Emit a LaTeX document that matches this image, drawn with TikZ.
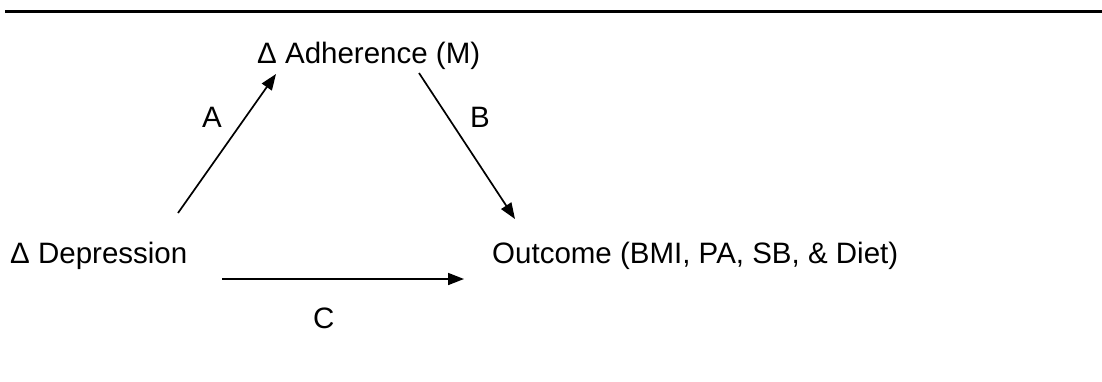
\documentclass[tikz,border=0pt]{standalone}
\usepackage{fontspec}
\setmainfont{Liberation Sans}
\usetikzlibrary{arrows.meta}
\begin{document}
\begin{tikzpicture}[x=1pt,y=-1pt,
  lbl/.style={anchor=base west,inner sep=0pt,font=\fontsize{29.5}{34}\selectfont},
  conn/.style={line width=1.7pt,-{Triangle[length=16pt,width=12pt]}}]
\useasboundingbox (0,0) rectangle (1102,381);
% rule across the top
\draw[line width=3pt] (5,11.5) -- (1102,11.5);
% variables
\node[lbl] (med) at (257,63) {Δ Adherence (M)};
\node[lbl] (dep) at (10,263) {Δ Depression};
\node[lbl] (out) at (492,263) {Outcome (BMI, PA, SB, \& Diet)};
% path labels
\node[lbl] (la) at (202,127) {A};
\node[lbl] (lb) at (470,127) {B};
\node[lbl] (lc) at (313,328) {C};
% arrow end points
\coordinate (a0) at (178,213);
\coordinate (a1) at (276,74);
\coordinate (b0) at (419,73);
\coordinate (b1) at (515,219);
\coordinate (c0) at (222,279);
\coordinate (c1) at (464,279);
\draw[conn] (a0) -- (a1);
\draw[conn] (b0) -- (b1);
\draw[conn] (c0) -- (c1);
\end{tikzpicture}
\end{document}
